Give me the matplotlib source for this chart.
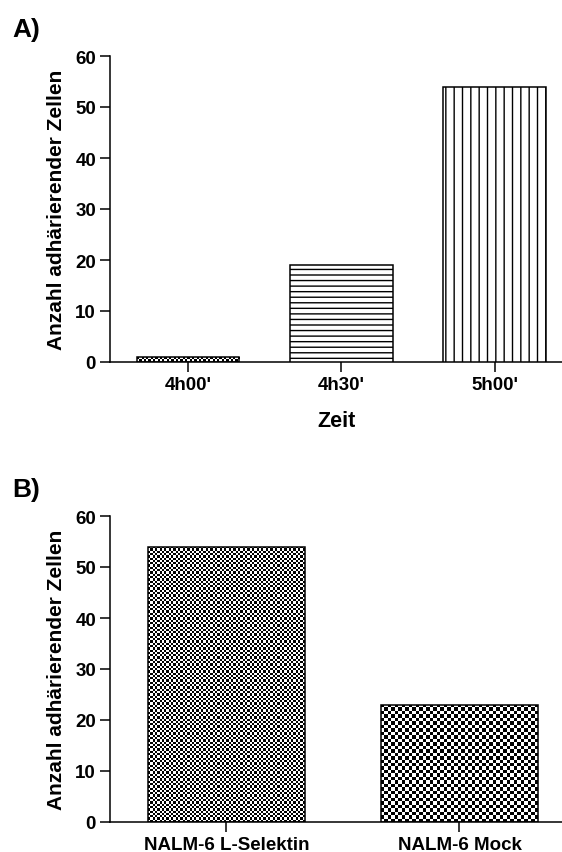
import numpy as np
import matplotlib
matplotlib.use("Agg")
import matplotlib.pyplot as plt

plt.rcParams['font.family'] = ['Liberation Sans', 'DejaVu Sans']
plt.rcParams['font.weight'] = 'bold'
plt.rcParams['hatch.linewidth'] = 1.0

# Panel A: adhesion over time
zeit_labels = ["4h00'", "4h30'", "5h00'"]
zellen_zeit = [1, 19, 54]

# Panel B: cell line comparison
linien_labels = ["NALM-6 L-Selektin", "NALM-6 Mock"]
zellen_linie = [54, 23]

y_ticks = [0, 10, 20, 30, 40, 50, 60]
y_label = "Anzahl adhärierender Zellen"

W, H = 562, 853
fig = plt.figure(figsize=(W / 100, H / 100), dpi=100)


def px_axes(left, bottom_y, top_y, right):
    return fig.add_axes([left / W, (H - bottom_y) / H,
                         (right - left) / W, (bottom_y - top_y) / H])


def style_axes(ax):
    for side in ('top', 'right'):
        ax.spines[side].set_visible(False)
    for side in ('left', 'bottom'):
        ax.spines[side].set_linewidth(1.1)
    ax.tick_params(axis='both', direction='out', length=7, width=1.1,
                   labelsize=13.5, pad=3)
    ax.set_ylim(0, 60)
    ax.set_yticks(y_ticks)
    for lab in ax.get_xticklabels() + ax.get_yticklabels():
        lab.set_fontweight('bold')


def checker_fill(ax, patch, cell_px):
    x0, w, h = patch.get_x(), patch.get_width(), patch.get_height()
    p0 = ax.transData.transform((x0, 0))
    p1 = ax.transData.transform((x0 + w, h))
    nx = max(1, int(round(abs(p1[0] - p0[0]) / cell_px)))
    ny = max(1, int(round(abs(p1[1] - p0[1]) / cell_px)))
    jj, ii = np.indices((ny, nx))
    board = ((ii + jj) % 2).astype(float)
    im = ax.imshow(board, cmap='gray_r', vmin=0, vmax=1,
                   extent=(x0, x0 + w, 0, h), origin='lower',
                   interpolation='nearest', aspect='auto', zorder=2)
    im.set_clip_path(patch)


# ---- Panel A ----
axA = px_axes(110, 363, 57, 562)
xa = np.arange(len(zeit_labels))
barsA = axA.bar(xa, zellen_zeit, width=0.67, facecolor='white',
                edgecolor='black', linewidth=1.1, zorder=3)
barsA[0].set_facecolor('none')
barsA[1].set_hatch('---')
barsA[2].set_hatch('||')
axA.set_xlim(-0.508, 2.44)
style_axes(axA)
axA.set_xticks(xa)
axA.set_xticklabels(zeit_labels, fontweight='bold')
checker_fill(axA, barsA[0], 2.3)
axA.set_ylabel(y_label, fontsize=15, fontweight='bold', labelpad=7)
axA.set_xlabel("Zeit", fontsize=15.5, fontweight='bold', labelpad=12)
fig.text(12 / W, 1 - 30 / H, "A)", fontsize=19, fontweight='bold',
         va='center', ha='left')

# ---- Panel B ----
axB = px_axes(110, 823, 517, 562)
xb = np.arange(len(linien_labels))
barsB = axB.bar(xb, zellen_linie, width=0.67, facecolor='none',
                edgecolor='black', linewidth=1.1, zorder=3)
axB.set_xlim(-0.5, 1.44)
style_axes(axB)
axB.set_xticks(xb)
axB.set_xticklabels(linien_labels, fontweight='bold')
checker_fill(axB, barsB[0], 2.3)
checker_fill(axB, barsB[1], 3.5)
axB.set_ylabel(y_label, fontsize=15, fontweight='bold', labelpad=7)
fig.text(12 / W, 1 - 490 / H, "B)", fontsize=19, fontweight='bold',
         va='center', ha='left')

fig.savefig("out.png", dpi=100)
